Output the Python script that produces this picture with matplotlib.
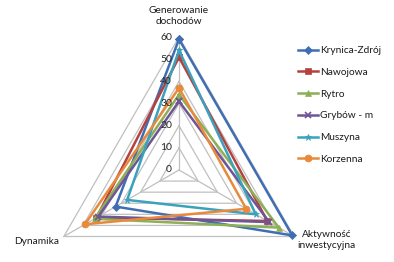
import numpy as np
import matplotlib
matplotlib.use("Agg")
import matplotlib.pyplot as plt

plt.rcParams['font.family'] = ['Lato', 'DejaVu Sans']

categories = ["Generowanie\ndochodów", "Aktywność\ninwestycyjna", "Dynamika"]
series_names = ["Krynica-Zdrój", "Nawojowa", "Rytro", "Grybów - m", "Muszyna", "Korzenna"]
krynica = [59, 59, 33]
nawojowa = [51, 46, 43]
rytro = [34, 52, 44]
grybow = [31, 47, 42]
muszyna = [54, 40, 27]
korzenna = [37, 35, 49]
tick_values = [0, 10, 20, 30, 40, 50, 60]

series = [krynica, nawojowa, rytro, grybow, muszyna, korzenna]
colors = ["#3F6EB3", "#B5413F", "#8DAF55", "#6F5596", "#3AA2BC", "#E8893C"]
markers = ["D", "s", "^", "x", "*", "o"]
msizes = [4, 4, 4.5, 4.5, 5, 5]

W, H = 394, 262
fig = plt.figure(figsize=(W / 100, H / 100), dpi=100)
cx, cy, R = 179, 170, 133
ax = fig.add_axes([(cx - R) / W, (H - cy - R) / H, 2 * R / W, 2 * R / H], projection='polar')
ax.set_theta_zero_location('N')
ax.set_theta_direction(-1)
ax.set_ylim(0, 60)
ax.grid(False)
ax.set_xticks([])
ax.set_yticks([])
ax.spines['polar'].set_visible(False)
ax.patch.set_visible(False)

n = len(categories)
theta = np.arange(n) * 2 * np.pi / n
theta_c = np.append(theta, theta[0])
grid_col = "#c0c0c0"
for lv in tick_values[1:]:
    ax.plot(theta_c, [lv] * (n + 1), color=grid_col, lw=0.9, clip_on=False, zorder=1)
for t in theta:
    ax.plot([t, t], [0, 60], color=grid_col, lw=0.9, clip_on=False, zorder=1)

for name, vals, c, m, ms in zip(series_names, series, colors, markers, msizes):
    v = np.append(vals, vals[0])
    ax.plot(theta_c, v, color=c, lw=1.8, marker=m, markersize=ms, markeredgewidth=1.2 if m == 'x' else 0.5,
            label=name, clip_on=False, zorder=3)

for tv in tick_values:
    ax.annotate(str(tv), xy=(0, tv), xytext=(-5, 0), textcoords='offset points',
                ha='right', va='center', fontsize=7.5, color='#262626', zorder=5)

txtc = '#1a1a1a'
fig.text(179 / W, 1 - 16 / H, categories[0], ha='center', va='center', fontsize=7.3, color=txtc, linespacing=1.4)
fig.text(327 / W, 1 - 240 / H, categories[1], ha='center', va='center', fontsize=7.3, color=txtc, linespacing=1.4)
fig.text(37 / W, 1 - 241 / H, categories[2], ha='center', va='center', fontsize=7.3, color=txtc)

fig.legend(loc='upper left', bbox_to_anchor=(298 / W, 1 - 46 / H), frameon=False, fontsize=7.3,
           handlelength=2.0, handletextpad=0.2, labelspacing=1.25, borderaxespad=0, borderpad=0,
           labelcolor=txtc)

fig.savefig("out.png", dpi=100)
